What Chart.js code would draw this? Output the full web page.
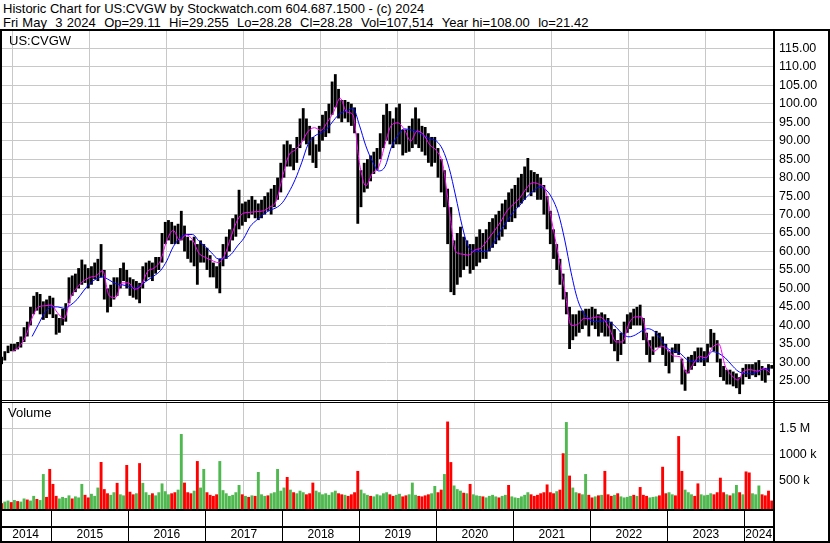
<!DOCTYPE html>
<html><head><meta charset="utf-8">
<script src="https://cdn.jsdelivr.net/npm/chart.js@4.4.1/dist/chart.umd.min.js"></script>
<style>
body{margin:0;background:#fff;}
#wrap{position:relative;width:830px;height:543px;overflow:hidden;font-family:"Liberation Sans",Arial,sans-serif;background:#fff}
.txt{position:absolute;font-size:13px;white-space:pre;color:#000;line-height:14px}
.ln{position:absolute;background:#000}
canvas{position:absolute;left:0}
</style></head><body>
<div id="wrap">
<div class="txt" style="left:3px;top:2px">Historic Chart for US:CVGW by Stockwatch.com 604.687.1500 - (c) 2024</div>
<div class="txt" style="left:3px;top:16px;word-spacing:0.6px">Fri May  3 2024  Op=29.11  Hi=29.255  Lo=28.28  Cl=28.28  Vol=107,514  Year hi=108.00  lo=21.42</div>
<canvas id="price" width="830" height="370" style="top:31px"></canvas>
<canvas id="vol" width="830" height="138" style="top:403px"></canvas>
<div class="txt" style="left:9px;top:34px">US:CVGW</div>
<div class="txt" style="left:8px;top:406px">Volume</div>
<div class="ln" style="left:0;top:29px;width:830px;height:2px"></div>
<div class="ln" style="left:0;top:29px;width:2px;height:514px"></div>
<div class="ln" style="left:773px;top:29px;width:2px;height:512px"></div>
<div class="ln" style="left:828px;top:29px;width:2px;height:514px"></div>
<div class="ln" style="left:0;top:400px;width:830px;height:1px"></div>
<div class="ln" style="left:0;top:402px;width:830px;height:1px"></div>
<div class="ln" style="left:0;top:509px;width:775px;height:2px"></div>
<div class="ln" style="left:0;top:526px;width:775px;height:2px"></div>
<div class="ln" style="left:0;top:541px;width:830px;height:2px"></div>
</div>
<script>
// ---- data (half-month periods from May 2014 to May 2024) ----
const lows = [
29.5,30.5,32.5,33,33,33.5,34,35.5,37,40,43,44,43,41.5,42,43,
42,37.5,38,40,41,46,48,49,50,51,51.5,50,51,52.5,52,53,47,43.5,45,47,48,50,52,50,
48,47.5,47,46,50,52,53,52,54,55,57,62,63,62,62,62,63,60,58,57,56,51,57,57,
55,53,53,50,48.7,56,58,60,63,64,66,67,68,69,70,69,68.5,69,70,71,70,72,74,76,
80,83,83,82,84,88,90,89,86,84,82.6,87,90,91,92,97,99,96,95,96,95,94,92,67.5,
72,76,77,79,81,82,85,88,90,89,88,89,89,86,86.7,87,88,89,88,87,86,84,83,84,
80,76,72,62,49,48.2,51,53,55,56,54,55,56,57,58,58,60,61,62,63,64,66,68,68,
69,72,73,74,76,75,76,74,74,70,66,62,58,55,51,47,43,33.6,36,37,38,39,40,37,
40,39,37,38,37,37,35,33,30.3,32,35,38,39,40,40,40,36,32,30,32,34,34,32,29,
27,30,32.5,32,24,22.3,27,28,29,30,30,29,30,34,33,30,26,25,24,24,23.5,23,21.4,24,
26,25.5,26.5,26,26.5,25,24.5,26.5,28.28];
const highs = [
31.5,33,34.5,35,35,35.5,37,39.5,41,45,48,49,48.5,46.5,47,48,
47.5,43,42,44.5,46,53,53.5,54,55.5,57.8,56.5,55.5,56,57,58,62,55,50,51,53,53,55.5,57,55,
53,52.5,52,51.5,56,57,57.5,57,58.5,58.5,65,68,68.5,68,67,67.5,71,67,64,63,64,62,63,62,
61,59,57,56,58,62,64,66,69,70,76.7,73,73.5,74,75,74,73,74,75,76,77,78,80,84,
89,90,89,88,91,96,98.8,96,94,91,89,94,97,98,100,106,108,104,101,101,100.5,100,99,92,
82,84,85,86,87,88,92,97,100,98,96,99,100,93,93,94,96,99,96,94,93.7,92,91,91,
88,85,82,77,72,63,65,66.7,64,63,62,62,64,66,65,66,68,69,70,71,73,74,76,77,
78,80,81,83,85.3,82,81.5,81,80,78,75,71,66,62,58,54,49,45,43,43,44,44,44.5,44.5,
45,44.5,43,43.5,43,42,41,39,36,38,41,43,43.5,44.5,45,45.6,42,38,36,37,38.5,38,37,35,
33,34,35,35,31,28,31.5,32,33,34,34,33,35,39,38,36,31,29,28,28,27.5,27,26,28.5,
29.5,29.5,29.5,30,30.6,29,28.5,29.5,29.26];
// monthly moving averages (month 0 = May 2014)
const maFast = [
null,null,33,34.3,37,42,45,45.3,45.5,43.3,
41.8,47.5,50.2,52,53,53.4,54.8,48,47.5,51.5,
51.5,49.8,50.8,54.6,55.5,57.5,63,65.7,63,64.5,
63.2,59.5,58.4,57.6,57,59,64,68.5,70.4,70.6,
70.8,71,72,73.5,80,86,87.5,89.5,92.5,93.5,
92.8,95,97.8,101.5,97.8,97,84,77.8,81.1,82.8,
89,94.2,94.8,93,89.9,92.6,91.6,88.8,87.3,83.5,
71.5,60,59.3,59,60.4,61,63.2,65.5,68,71,
72.8,74.5,77,78.6,78.2,76.5,68,59,49.6,40,
40.2,41.9,41.9,42.3,41.8,39,35.5,35.5,40.5,42.3,
42.3,35.5,33,34.4,33.5,31.7,31.5,27,29.5,31.6,
31.2,34,35,29,26.5,25.2,27.8,28,27.6,28.3,27.2];
const maSlow = [
null,null,null,null,null,37,40.3,43.5,45,45,
44.6,45.5,47,49.3,51.3,52.6,53.1,52.3,51.3,51,
50.6,50,51,52.2,53.4,54.8,57.5,61.3,63.5,64.6,
64.6,62.8,61.3,59.6,58,58.2,59.2,61.5,63.6,66.8,
68.5,70,71.1,71.8,73.2,76,79.5,84,89,91.2,
92.1,93.3,95.5,97.4,98,98.8,94.2,88.6,84.5,81.8,
83,88.3,91.4,93.2,92.9,92.5,91.3,90.5,89.9,87.5,
82.5,75,67,61.2,60.1,60,60.2,62.4,65.7,68.2,
70.7,72.5,74.7,76.2,77.4,76.8,74.5,70.3,63.1,54.2,
47,43.2,41.4,41,41.2,40.9,39.5,37.7,36.9,37.4,
38.5,39.1,38.3,36.2,33.8,33,32.4,30.8,30.2,30.6,
31,32.9,32.4,31.2,29.3,27.6,27,26.9,27.4,28.1,28];
// volume per half-month (thousands of shares) and up(1)/down(0) flag
const volumeK = [
60,90,110,80,120,100,90,150,130,110,200,140,120,620,180,717,
430,200,150,180,160,210,150,190,170,430,220,170,240,200,360,852,330,250,220,270,450,230,210,794,
280,230,250,830,450,270,220,250,210,270,440,290,230,250,270,320,1390,455,270,250,300,870,360,717,
270,220,200,230,870,310,250,200,220,270,410,230,200,180,210,200,660,230,200,210,250,270,717,300,
360,563,320,270,250,300,270,230,250,455,300,270,230,250,220,270,300,250,230,220,200,230,270,680,
320,250,220,200,190,230,210,250,270,230,200,220,240,190,210,230,455,220,200,190,210,230,250,390,
270,320,620,1630,850,400,330,300,260,250,430,230,210,200,190,170,200,220,190,170,200,220,410,190,
170,160,190,220,270,230,200,220,250,270,420,270,250,290,320,1020,1620,590,360,270,250,230,620,220,
170,190,210,220,680,230,200,220,250,190,170,180,200,220,200,370,220,200,170,180,190,210,760,250,
270,230,210,1350,680,320,270,230,200,440,230,210,220,250,230,270,550,270,230,210,250,410,270,230,
670,650,250,230,400,230,210,300,110];
const volUp = [
0,1,1,0,1,0,1,1,0,1,1,0,1,1,0,0,
0,0,1,1,1,1,0,1,1,1,0,0,1,1,1,0,0,0,1,1,0,1,1,0,
0,0,1,0,1,1,1,0,1,1,1,1,1,0,0,1,1,0,0,0,1,0,1,1,
0,0,0,0,1,1,1,1,1,1,1,0,1,0,1,0,1,1,1,0,1,1,1,1,
1,0,1,0,1,1,1,0,0,0,1,1,1,1,1,1,1,0,0,1,0,0,0,0,
1,1,1,0,1,1,1,1,1,0,0,1,1,0,0,1,1,1,0,0,0,0,1,1,
0,0,1,0,0,1,1,1,0,1,0,1,1,1,0,1,1,1,1,0,1,1,0,1,
1,1,1,1,1,0,0,0,0,0,0,0,0,1,0,0,1,0,1,1,0,1,1,0,
0,1,0,1,0,0,0,1,0,1,1,1,1,0,1,0,0,0,1,1,1,0,0,0,
1,1,0,0,0,1,1,1,0,0,1,1,1,1,0,0,0,0,1,0,1,1,0,1,
0,0,1,1,1,0,0,0,0];
const years = ['2014','2015','2016','2017','2018','2019','2020','2021','2022','2023','2024'];
const yearStartMonth = [0,8,20,32,44,56,68,80,92,104,116];
const priceTicks = [25,30,35,40,45,50,55,60,65,70,75,80,85,90,95,100,105,110,115];
const volTicks = [500000,1000000,1500000];

// ---- chart setup ----
Chart.defaults.font.family = '"Liberation Sans", Arial, sans-serif';
Chart.defaults.color = '#000';
const X_MAX = 120.45;
const GRID = '#c8c8c8';
const VOL_MIN = -52000, VOL_MAX = 1986500;
const xScale = (h) => ({
  type:'linear', min:0, max:X_MAX, offset:false,
  afterBuildTicks:s=>{ s.ticks = yearStartMonth.filter(m=>m>0).map(v=>({value:v})); },
  afterFit:s=>{ s.height = h; s.paddingLeft=0; s.paddingRight=0; },
  ticks:{display:false}, grid:{color:GRID, lineWidth:1, drawTicks:false}, border:{display:false}
});
const halfMonth = i => i*0.5 + 0.25;

new Chart(document.getElementById('price'), {
  type:'bar',
  data:{datasets:[
    {type:'line', data:maFast.map((v,m)=>({x:m,y:v})), borderColor:'#ff00ff', borderWidth:1, pointRadius:0, cubicInterpolationMode:'monotone', spanGaps:false, order:0},
    {type:'line', data:maSlow.map((v,m)=>({x:m,y:v})), borderColor:'#0000ff', borderWidth:1, pointRadius:0, cubicInterpolationMode:'monotone', spanGaps:false, order:1},
    {type:'bar', data:lows.map((l,i)=>({x:halfMonth(i), y:[l, highs[i]]})), backgroundColor:'#000', borderWidth:0, barPercentage:0.88, categoryPercentage:1, order:2}
  ]},
  options:{
    responsive:false, animation:false, devicePixelRatio:1,
    layout:{padding:0},
    plugins:{legend:{display:false}, tooltip:{enabled:false}},
    scales:{
      x: xScale(0),
      y:{position:'right', min:19.53, max:119.68,
        afterBuildTicks:s=>{ s.ticks = priceTicks.map(v=>({value:v})); },
        afterFit:s=>{ s.width = 57; s.paddingTop=0; s.paddingBottom=0; },
        ticks:{padding:6, font:{size:12.5}, color:'#000', callback:v=>Number(v).toFixed(2)},
        grid:{color:GRID, lineWidth:1, drawTicks:false}, border:{display:false}}
    }
  }
});

const yearAxis = {
  id:'yearAxis',
  afterDraw(chart){
    const {ctx, chartArea, scales:{x}} = chart;
    ctx.save();
    ctx.fillStyle = '#000';
    yearStartMonth.forEach(m=>{ if(m>0){ const px = Math.floor(x.getPixelForValue(m)); ctx.fillRect(px, chartArea.bottom, 1, chart.height-chartArea.bottom); } });
    ctx.font = '12px "Liberation Sans", Arial, sans-serif';
    ctx.textAlign = 'center'; ctx.textBaseline = 'middle';
    years.forEach((y,k)=>{
      const a = x.getPixelForValue(yearStartMonth[k]);
      const b = x.getPixelForValue(k+1<yearStartMonth.length ? yearStartMonth[k+1] : x.max);
      ctx.fillText(y, (a+b)/2, chartArea.bottom + 26);
    });
    ctx.restore();
  }
};

new Chart(document.getElementById('vol'), {
  type:'bar',
  data:{datasets:[{
    data:volumeK.map((v,i)=>({x:halfMonth(i), y:v*1000})),
    backgroundColor:volUp.map(u=>u?'#4fb84f':'#ff0000'),
    base:VOL_MIN, borderWidth:0, barPercentage:0.9, categoryPercentage:1
  }]},
  options:{
    responsive:false, animation:false, devicePixelRatio:1,
    layout:{padding:0},
    plugins:{legend:{display:false}, tooltip:{enabled:false}},
    scales:{
      x: xScale(32),
      y:{position:'right', min:VOL_MIN, max:VOL_MAX,
        afterBuildTicks:s=>{ s.ticks = volTicks.map(v=>({value:v})); },
        afterFit:s=>{ s.width = 57; s.paddingTop=0; s.paddingBottom=0; },
        ticks:{padding:6, font:{size:12.5}, color:'#000', callback:v=> v>=1500000 ? (v/1e6)+' M' : (v/1000)+' k'},
        grid:{color:GRID, lineWidth:1, drawTicks:false}, border:{display:false}}
    }
  },
  plugins:[yearAxis]
});
</script>
</body></html>
